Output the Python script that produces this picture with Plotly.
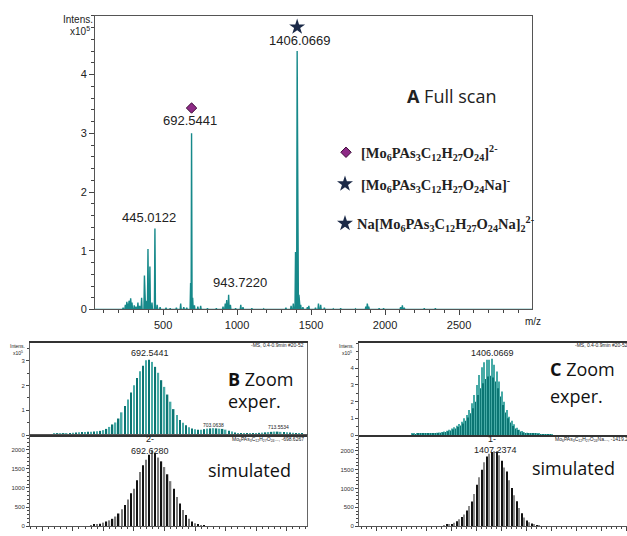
import plotly.graph_objects as go

W, H = 627, 536

# ---------------- data ----------------
# A: full scan (m/z, intensity x1e5)
full_mz = [230, 245, 255, 262, 270, 281, 290, 305, 317, 330, 342, 355, 374, 385, 398, 411, 425, 445,
           460, 480, 520, 548, 590, 619, 640, 660, 686, 692.5, 700, 712, 735, 754, 800, 860, 905, 920,
           930, 943, 955, 990, 1025, 1040, 1100, 1180, 1250, 1330, 1365, 1380, 1395, 1406, 1418, 1430,
           1445, 1475, 1485, 1530, 1550, 1565, 1590, 1650, 1700, 1800, 1870, 1880, 1890, 1960, 1990,
           2105, 2117, 2130, 2265, 2340]
full_int = [0.03, 0.08, 0.13, 0.10, 0.15, 0.19, 0.12, 0.07, 0.05, 0.12, 0.06, 0.20, 0.58, 0.15, 1.03, 0.73, 0.12, 1.38,
            0.08, 0.04, 0.03, 0.02, 0.03, 0.10, 0.04, 0.03, 0.45, 3.00, 0.20, 0.07, 0.05, 0.06, 0.02, 0.02, 0.05, 0.10,
            0.16, 0.25, 0.08, 0.02, 0.08, 0.04, 0.02, 0.01, 0.01, 0.03, 0.06, 0.10, 0.98, 4.40, 0.25, 0.08,
            0.04, 0.04, 0.06, 0.03, 0.10, 0.08, 0.03, 0.01, 0.02, 0.01, 0.05, 0.10, 0.05, 0.02, 0.02,
            0.04, 0.07, 0.03, 0.02, 0.02]
main_ticks_x = [500, 1000, 1500, 2000, 2500]
main_ticks_y = [0, 1, 2, 3, 4]

# B: zoom on 692.5441 (2-), experimental (x1e5), start 674.0, step 0.5
b_exp_start, b_exp_step = 674.0, 0.5
b_exp_int = [0.02, 0.02, 0.02, 0.03, 0.03, 0.03, 0.04, 0.04, 0.05, 0.06, 0.07, 0.08, 0.09, 0.10, 0.11, 0.12,
             0.12, 0.13, 0.13, 0.14, 0.15, 0.17, 0.20, 0.25, 0.33,
             0.43, 0.51, 0.67, 0.92, 1.18, 1.44, 1.72, 2.02, 2.31, 2.58, 2.80, 3.03, 3.05, 2.96, 2.76, 2.52,
             2.22, 1.95, 1.64, 1.35, 1.05, 0.81, 0.61, 0.50,
             0.40, 0.32, 0.27, 0.24, 0.22, 0.22, 0.24, 0.26, 0.27, 0.28, 0.27, 0.26, 0.25, 0.22, 0.18, 0.14,
             0.10, 0.08, 0.06, 0.05, 0.05, 0.06, 0.07, 0.08, 0.09, 0.10, 0.11, 0.12, 0.13, 0.14, 0.14, 0.13,
             0.12, 0.11, 0.10, 0.09, 0.08, 0.07, 0.06]
# B simulated, start 683.0, step 0.5
b_sim_start, b_sim_step = 683.0, 0.5
b_sim_int = [20, 30, 45, 60, 90, 120, 150, 190, 250, 330, 440, 550, 700, 860, 980, 1200, 1420, 1600, 1740,
             1870, 1990, 1920, 1800, 1700, 1550, 1360, 1180, 980, 760, 590, 420, 290, 190, 120, 75, 45, 25, 10]

# C: zoom on 1406.0669 (1-), experimental (x1e5)
c_int_start = 1374   # integer m/z series
c_exp_int = [0.07, 0.07, 0.08, 0.08, 0.09, 0.09,
             0.10, 0.11, 0.12, 0.13, 0.14, 0.16, 0.19, 0.22, 0.26, 0.32, 0.39, 0.47, 0.56, 0.66, 0.80, 1.00,
             1.20, 1.50, 1.90, 2.40, 3.00, 3.60, 4.05, 4.35, 4.50, 4.50, 4.57, 4.20, 3.80, 3.20, 2.60, 2.00,
             1.50, 1.10, 0.85, 0.65, 0.44, 0.32, 0.24, 0.17, 0.14, 0.11, 0.09, 0.08, 0.07, 0.06, 0.05, 0.04,
             0.04, 0.03, 0.03]
c_half_start = 1374.5  # half-integer m/z series
c_exp_half = [0.05, 0.05, 0.06, 0.06, 0.07, 0.07,
              0.08, 0.09, 0.10, 0.11, 0.12, 0.14, 0.16, 0.19, 0.23, 0.28, 0.34, 0.40, 0.48, 0.58, 0.70, 0.85,
              1.05, 1.30, 1.60, 2.00, 2.40, 2.80, 3.10, 3.35, 3.50, 3.55, 3.45, 3.20, 2.80, 2.30, 1.80, 1.35,
              1.00, 0.75, 0.55, 0.40, 0.30, 0.22, 0.16, 0.12, 0.10, 0.08, 0.07, 0.06, 0.05, 0.04, 0.04, 0.03,
              0.03, 0.02]
# C simulated, integer m/z from 1387
c_sim_start = 1387
c_sim_int = [22, 30, 40, 55, 85, 130, 180, 240, 310, 415, 530, 650, 850, 1100, 1300, 1500, 1700, 1850, 1920,
             1970, 1990, 1985, 1880, 1740, 1560, 1450, 1220, 1010, 820, 660, 480, 340, 230, 150, 100, 70, 40,
             18, 8]

# ---------------- helpers ----------------
TEAL = "#16898a"
TEAL_L = "#47aaa6"
TEAL_D = "#0b7573"
SANS = "Liberation Sans"


def px(x):
    return x / W


def py(y):
    return 1 - y / H


def ann(text, x, y, size, xanchor="center", family=SANS, color="#222", yanchor="middle"):
    return dict(text=text, x=px(x), y=py(y), xref="paper", yref="paper", xanchor=xanchor,
                yanchor=yanchor, showarrow=False, font=dict(size=size, family=family, color=color))


# main axis pixel <-> data mapping (for legend glyphs placed inside plot A)
MX0, MX1, MXR = 95, 532, (40, 2993)
MY0, MY1, MYR = 313, 16, (0, 5)


def mz_at(pxx):
    return MXR[0] + (pxx - MX0) / (MX1 - MX0) * (MXR[1] - MXR[0])


def it_at(pyy):
    return MYR[0] + (MY0 - pyy) / (MY0 - MY1) * (MYR[1] - MYR[0])


fig = go.Figure()

# ---- A full scan profile ----
prof_x, prof_y = [MXR[0]], [0]
for m, h in sorted(zip(full_mz, full_int)):
    prof_x += [m - 3.5, m, m + 3.5]
    prof_y += [0, h, 0]
prof_x.append(MXR[1])
prof_y.append(0)
fig.add_trace(go.Scatter(x=prof_x, y=prof_y, mode="lines", fill="tozeroy",
                         line=dict(color=TEAL, width=1.4), fillcolor=TEAL,
                         xaxis="x", yaxis="y", hoverinfo="skip"))

# peak markers
i692 = full_mz.index(692.5)
i1406 = full_mz.index(1406)
fig.add_trace(go.Scatter(x=[full_mz[i692]], y=[full_int[i692] + 0.43], mode="markers",
                         marker=dict(symbol="diamond", size=8, color="#8e2a86",
                                     line=dict(color="#3d0b38", width=1)),
                         xaxis="x", yaxis="y"))
fig.add_trace(go.Scatter(x=[full_mz[i1406]], y=[full_int[i1406] + 0.41], mode="markers",
                         marker=dict(symbol="star", size=12, color="#1b2a48", line=dict(width=0)),
                         xaxis="x", yaxis="y"))
# legend glyphs
fig.add_trace(go.Scatter(x=[mz_at(346)], y=[it_at(154)], mode="markers",
                         marker=dict(symbol="diamond", size=8, color="#8e2a86",
                                     line=dict(color="#3d0b38", width=1)),
                         xaxis="x", yaxis="y"))
fig.add_trace(go.Scatter(x=[mz_at(345), mz_at(345)], y=[it_at(186), it_at(226)], mode="markers",
                         marker=dict(symbol="star", size=12, color="#1b2a48", line=dict(width=0)),
                         xaxis="x", yaxis="y"))

# ---- B ----
b_exp_mz = [b_exp_start + b_exp_step * i for i in range(len(b_exp_int))]
fig.add_trace(go.Bar(x=b_exp_mz, y=b_exp_int, width=0.24,
                     marker=dict(color=[TEAL_D if i % 2 else TEAL_L for i in range(len(b_exp_int))],
                                 line=dict(width=0)),
                     xaxis="x2", yaxis="y2"))
b_sim_mz = [b_sim_start + b_sim_step * i for i in range(len(b_sim_int))]
fig.add_trace(go.Bar(x=b_sim_mz, y=b_sim_int, width=0.22,
                     marker=dict(color=["#111" if i % 2 else "#7a7a7a" for i in range(len(b_sim_int))],
                                 line=dict(width=0)),
                     xaxis="x3", yaxis="y3"))

# ---- C ----
c_mz = [c_int_start + i for i in range(len(c_exp_int))]
c_half_mz = [c_half_start + i for i in range(len(c_exp_half))]
fig.add_trace(go.Bar(x=c_mz, y=c_exp_int, width=0.38,
                     marker=dict(color=TEAL_L, line=dict(width=0)), xaxis="x4", yaxis="y4"))
fig.add_trace(go.Bar(x=c_half_mz, y=c_exp_half, width=0.38,
                     marker=dict(color=TEAL_D, line=dict(width=0)), xaxis="x4", yaxis="y4"))
c_sim_mz = [c_sim_start + i for i in range(len(c_sim_int))]
fig.add_trace(go.Bar(x=c_sim_mz, y=c_sim_int, width=0.45,
                     marker=dict(color=["#111" if i % 2 else "#8a8a8a" for i in range(len(c_sim_int))],
                                 line=dict(width=0)),
                     xaxis="x5", yaxis="y5"))

# ---------------- layout ----------------
tick_small = dict(size=6, family=SANS, color="#333")
tick_main = dict(size=11, family=SANS, color="#222")

lay = dict(
    width=W, height=H, margin=dict(l=0, r=0, t=0, b=0),
    paper_bgcolor="white", plot_bgcolor="white", showlegend=False, barmode="overlay",
    xaxis=dict(domain=[px(MX0), px(MX1)], anchor="y", range=list(MXR), tickvals=main_ticks_x,
               ticks="outside", ticklen=5, tickcolor="#444", showline=True, linecolor="#555",
               linewidth=1, mirror=True, showgrid=False, zeroline=False, tickfont=tick_main,
               minor=dict(dtick=100, tick0=0, ticks="outside", ticklen=3, tickcolor="#444")),
    yaxis=dict(domain=[py(MY0), py(MY1)], anchor="x", range=list(MYR), tickvals=main_ticks_y,
               ticks="outside", ticklen=5, tickcolor="#444", showline=True, linecolor="#555",
               linewidth=1, mirror=True, showgrid=False, zeroline=False, tickfont=tick_main,
               minor=dict(dtick=0.2, tick0=0, ticks="outside", ticklen=3, tickcolor="#444")),
    # B upper
    xaxis2=dict(domain=[px(30), px(307)], anchor="y2", range=[673, 718.3], showticklabels=False,
                ticks="", showline=True, linecolor="#333", linewidth=1.5, mirror=True,
                showgrid=False, zeroline=False),
    yaxis2=dict(domain=[py(440), py(347)], anchor="x2", range=[0, 3.72], tickvals=[0, 1, 2, 3],
                ticks="outside", ticklen=3, tickcolor="#444", tickfont=tick_small, showline=True,
                linecolor="#666", linewidth=1, mirror=True, showgrid=False, zeroline=False,
                minor=dict(dtick=0.5, ticks="outside", ticklen=2, tickcolor="#444")),
    # B lower
    xaxis3=dict(domain=[px(30), px(307)], anchor="y3", range=[673, 718.3], showticklabels=False,
                ticks="outside", ticklen=4, tickcolor="#444", dtick=5, tick0=0, showline=True,
                linecolor="#555", linewidth=1, mirror=True, showgrid=False, zeroline=False,
                minor=dict(dtick=1, ticks="outside", ticklen=2, tickcolor="#444")),
    yaxis3=dict(domain=[py(532), py(440)], anchor="x3", range=[0, 2390], dtick=500,
                ticks="outside", ticklen=3, tickcolor="#444", tickfont=tick_small, showline=True,
                linecolor="#666", linewidth=1, mirror=True, showgrid=False, zeroline=False,
                minor=dict(dtick=100, ticks="outside", ticklen=2, tickcolor="#444")),
    # C upper
    xaxis4=dict(domain=[px(359), 1.0], anchor="y4", range=[1352.9, 1460.1], showticklabels=False,
                ticks="", showline=True, linecolor="#333", linewidth=1.5, mirror=True,
                showgrid=False, zeroline=False),
    yaxis4=dict(domain=[py(440), py(347)], anchor="x4", range=[0, 5.5], tickvals=[0, 1, 2, 3, 4],
                ticks="outside", ticklen=3, tickcolor="#444", tickfont=tick_small, showline=True,
                linecolor="#666", linewidth=1, mirror=False, showgrid=False, zeroline=False,
                minor=dict(dtick=0.5, ticks="outside", ticklen=2, tickcolor="#444")),
    # C lower
    xaxis5=dict(domain=[px(359), 1.0], anchor="y5", range=[1352.9, 1460.1], showticklabels=False,
                ticks="outside", ticklen=4, tickcolor="#444", dtick=10, tick0=0, showline=True,
                linecolor="#555", linewidth=1, mirror=False, showgrid=False, zeroline=False,
                minor=dict(dtick=2, ticks="outside", ticklen=2, tickcolor="#444")),
    yaxis5=dict(domain=[py(532), py(440)], anchor="x5", range=[0, 2420], dtick=500,
                ticks="outside", ticklen=3, tickcolor="#444", tickfont=tick_small, showline=True,
                linecolor="#666", linewidth=1, mirror=False, showgrid=False, zeroline=False,
                minor=dict(dtick=100, ticks="outside", ticklen=2, tickcolor="#444")),
)

formula = "Mo<sub>6</sub>PAs<sub>3</sub>C<sub>12</sub>H<sub>27</sub>O<sub>24</sub>"
SERIF = "Liberation Serif"
TITLE = "Open Sans"
annotations = [
    # A
    ann("Intens.", 78, 20, 10),
    ann("x10<sup>5</sup>", 80, 31, 10),
    ann("692.5441", 190, 122, 13),
    ann("1406.0669", 299, 41, 13),
    ann("445.0122", 149, 220, 13),
    ann("943.7220", 240, 286, 13),
    ann("m/z", 533, 325, 10),
    ann("<b>A</b> Full scan", 451, 97, 18, family=TITLE),
    ann(f"<b>[{formula}]<sup>2-</sup></b>", 359, 155, 14.5, xanchor="left", family=SERIF),
    ann(f"<b>[{formula}Na]<sup>-</sup></b>", 359, 187, 14.5, xanchor="left", family=SERIF),
    ann(f"<b>Na[{formula}Na]<sub>2</sub><sup>2-</sup></b>", 355, 227, 14.5, xanchor="left", family=SERIF),
    # B
    ann("Intens.", 17, 350, 5),
    ann("x10<sup>5</sup>", 18, 357, 5),
    ann("692.5441", 150, 357, 9),
    ann("2-", 150, 444, 9),
    ann("692.6280", 150, 456, 9),
    ann("703.0638", 213, 430, 5),
    ann("713.5534", 278, 432, 5),
    ann("-MS, 0.4-0.9min #20-52", 306, 349, 5, xanchor="right"),
    ann(f"{formula}..., -698.6267", 306, 444, 5, xanchor="right"),
    ann("<b>B</b> Zoom", 226, 383, 18, xanchor="left", family=TITLE, color="#111"),
    ann("exper.", 226, 406, 18, xanchor="left", family=TITLE, color="#111"),
    ann("simulated", 249, 475, 18, family=TITLE, color="#111"),
    # C
    ann("Intens.", 346, 350, 5),
    ann("x10<sup>5</sup>", 347, 357, 5),
    ann("1406.0669", 492, 357, 9),
    ann("1-", 492, 444, 9),
    ann("1407.2374", 496, 455, 9),
    ann("-MS, 0.4-0.9min #20-52", 573, 349, 5, xanchor="left"),
    ann(f"{formula}Na..., -1419.2", 553, 444, 5, xanchor="left"),
    ann("<b>C</b> Zoom", 548, 373, 18, xanchor="left", family=TITLE, color="#111"),
    ann("exper.", 548, 400, 18, xanchor="left", family=TITLE, color="#111"),
    ann("simulated", 573, 473, 18, family=TITLE, color="#111"),
]
lay["annotations"] = annotations
fig.update_layout(**lay)

fig.write_html("out.html", config={"displayModeBar": False},
               post_script="document.body.style.margin='0';")
